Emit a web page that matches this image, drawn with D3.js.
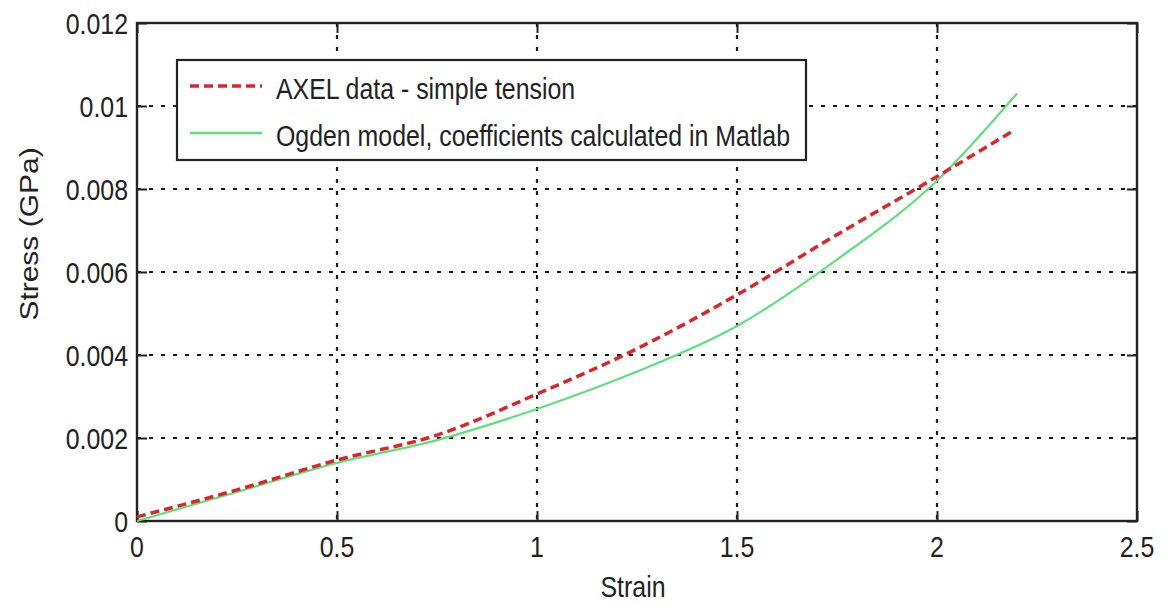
<!DOCTYPE html>
<html>
<head>
<meta charset="utf-8">
<script src="https://cdn.jsdelivr.net/npm/d3@7"></script>
<style>
  html, body { margin: 0; padding: 0; background: #fff; }
  svg { display: block; }
  text { font-family: "Liberation Sans", Arial, sans-serif; fill: #222; }
</style>
</head>
<body>
<svg id="chart" width="1166" height="607"></svg>
<script>
// Stress–strain data (strain, stress in GPa)
const axelStrain  = [0, 0.25, 0.5, 0.75, 1.0, 1.25, 1.5, 1.75, 2.0, 2.19];
const axelStress  = [0.0001, 0.00075, 0.00147, 0.00207, 0.00306, 0.00415, 0.00545, 0.0069, 0.0083, 0.0094];
const ogdenStrain = [0, 0.25, 0.5, 0.75, 1.0, 1.25, 1.5, 1.75, 2.0, 2.2];
const ogdenStress = [0, 0.0007, 0.0014, 0.00195, 0.0027, 0.0036, 0.0047, 0.0063, 0.0082, 0.0103];

const xTicks = [0, 0.5, 1, 1.5, 2, 2.5];
const yTicks = [0, 0.002, 0.004, 0.006, 0.008, 0.01, 0.012];
const xTickLabels = ["0", "0.5", "1", "1.5", "2", "2.5"];
const yTickLabels = ["0", "0.002", "0.004", "0.006", "0.008", "0.01", "0.012"];

const seriesNames = ["AXEL data - simple tension", "Ogden model, coefficients calculated in Matlab"];
const xTitle = "Strain";
const yTitle = "Stress (GPa)";

const svg = d3.select("#chart");
const plot = { left: 137, right: 1137, top: 23, bottom: 521 };
const squeeze = 0.83;     // horizontal squeeze of the lettering
const fontSize = 30;

const x = d3.scaleLinear().domain([0, 2.5]).range([plot.left, plot.right]);
const y = d3.scaleLinear().domain([0, 0.012]).range([plot.bottom, plot.top]);

// grid lines
const grid = svg.append("g");
grid.selectAll("line.vg").data(xTicks.slice(1, -1)).join("line")
  .attr("x1", d => x(d)).attr("x2", d => x(d))
  .attr("y1", plot.top).attr("y2", plot.bottom)
  .attr("stroke", "#1a1a1a").attr("stroke-width", 2.2).attr("stroke-dasharray", "4,8");
grid.selectAll("line.hg").data(yTicks.slice(1, -1)).join("line")
  .attr("y1", d => y(d)).attr("y2", d => y(d))
  .attr("x1", plot.left).attr("x2", plot.right)
  .attr("stroke", "#1a1a1a").attr("stroke-width", 2.2).attr("stroke-dasharray", "4,8");

// axes with inward ticks on all four sides
const tick = 10;
const axBottom = d3.axisBottom(x).tickValues(xTicks).tickSize(tick).tickFormat("");
const axTop = d3.axisTop(x).tickValues(xTicks).tickSize(tick).tickFormat("");
const axLeft = d3.axisLeft(y).tickValues(yTicks).tickSize(tick).tickFormat("");
const axRight = d3.axisRight(y).tickValues(yTicks).tickSize(tick).tickFormat("");

function styleAxis(g) {
  g.selectAll("path.domain").remove();
  g.selectAll(".tick line").attr("stroke", "#222").attr("stroke-width", 2);
}
svg.append("g").attr("transform", `translate(0,${plot.bottom}) scale(1,-1)`).call(axBottom).call(styleAxis);
svg.append("g").attr("transform", `translate(0,${plot.top}) scale(1,-1)`).call(axTop).call(styleAxis);
svg.append("g").attr("transform", `translate(${plot.left},0) scale(-1,1)`).call(axLeft).call(styleAxis);
svg.append("g").attr("transform", `translate(${plot.right},0) scale(-1,1)`).call(axRight).call(styleAxis);
svg.append("rect")
  .attr("x", plot.left).attr("y", plot.top)
  .attr("width", plot.right - plot.left).attr("height", plot.bottom - plot.top)
  .attr("fill", "none").attr("stroke", "#222").attr("stroke-width", 2.4);

// tick labels
const labels = svg.append("g").attr("font-size", fontSize);
labels.selectAll("text.xl").data(xTicks).join("text")
  .attr("transform", d => `translate(${x(d)},557) scale(${squeeze},1)`)
  .attr("text-anchor", "middle")
  .text((d, i) => xTickLabels[i]);
labels.selectAll("text.yl").data(yTicks).join("text")
  .attr("transform", d => `translate(128,${y(d) + 11}) scale(${squeeze},1)`)
  .attr("text-anchor", "end")
  .text((d, i) => yTickLabels[i]);

// axis titles
svg.append("text").attr("font-size", fontSize)
  .attr("transform", `translate(633,597) scale(${squeeze},1)`)
  .attr("text-anchor", "middle").text(xTitle);
svg.append("text").attr("font-size", fontSize)
  .attr("transform", `translate(38,234) scale(${squeeze},1) rotate(-90)`)
  .attr("text-anchor", "middle").text(yTitle);

// curves
const line = d3.line().x(d => x(d[0])).y(d => y(d[1])).curve(d3.curveMonotoneX);
const ogden = ogdenStrain.map((s, i) => [s, ogdenStress[i]]);
const axel = axelStrain.map((s, i) => [s, axelStress[i]]);

svg.append("path").datum(ogden).attr("d", line)
  .attr("fill", "none").attr("stroke", "#5fe07a").attr("stroke-width", 2.2);
svg.append("path").datum(axel).attr("d", line)
  .attr("fill", "none").attr("stroke", "#d9262c").attr("stroke-width", 3.5)
  .attr("stroke-dasharray", "9,5");

// legend
const legend = svg.append("g");
legend.append("rect")
  .attr("x", 177).attr("y", 60).attr("width", 629).attr("height", 100)
  .attr("fill", "#fff").attr("stroke", "#222").attr("stroke-width", 2.2);
const legendRows = [
  { name: seriesNames[0], color: "#d9262c", width: 3.5, dash: "9,5", y: 86 },
  { name: seriesNames[1], color: "#5fe07a", width: 2.5, dash: null, y: 133 }
];
legendRows.forEach(r => {
  legend.append("line")
    .attr("x1", 190).attr("x2", 262).attr("y1", r.y).attr("y2", r.y)
    .attr("stroke", r.color).attr("stroke-width", r.width)
    .attr("stroke-dasharray", r.dash);
  legend.append("text").attr("font-size", fontSize)
    .attr("transform", `translate(276,${r.y + 13}) scale(${squeeze},1)`)
    .text(r.name);
});
</script>
</body>
</html>
